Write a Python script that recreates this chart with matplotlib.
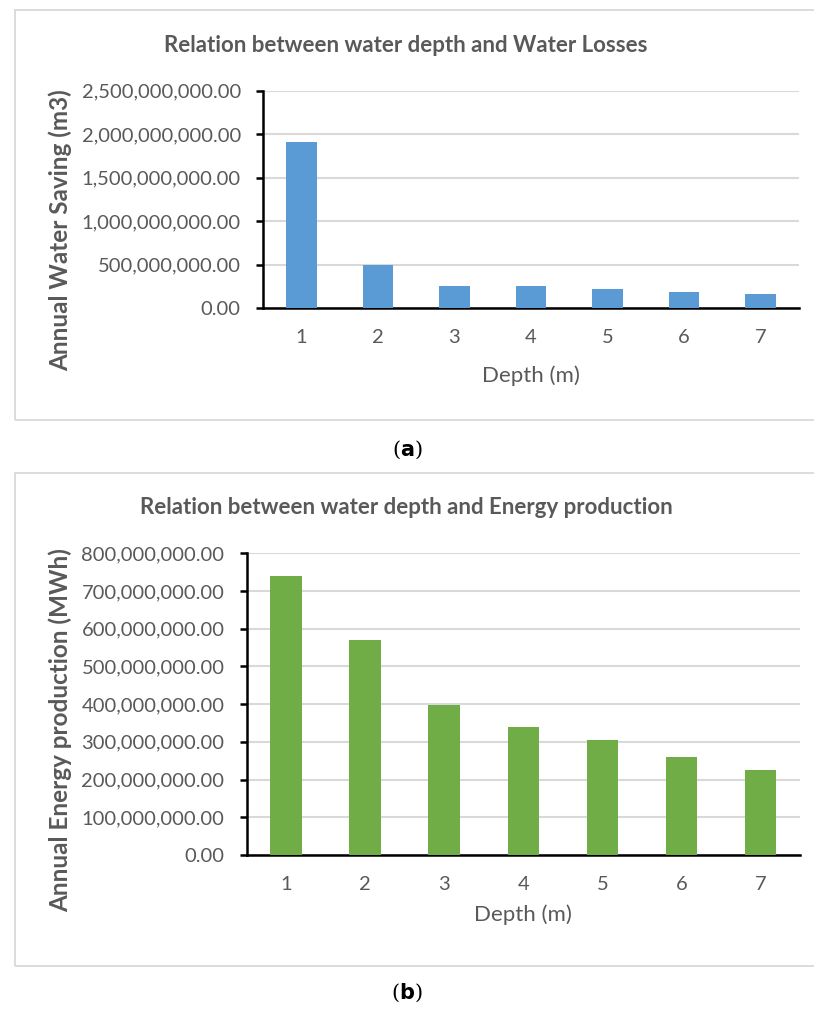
import matplotlib.pyplot as plt
from matplotlib.patches import Rectangle
from matplotlib.ticker import FuncFormatter

# Данные графиков
depth = [1, 2, 3, 4, 5, 6, 7]
water_saving = [1.909e9, 5.03e8, 2.60e8, 2.56e8, 2.25e8, 1.91e8, 1.65e8]
energy_production = [7.40e8, 5.69e8, 3.98e8, 3.40e8, 3.06e8, 2.60e8, 2.26e8]

W, H = 814, 1009
TEXT = '#595959'
GRID = '#D9D9D9'

plt.rcParams['font.family'] = ['Lato', 'DejaVu Sans']


def px_axes(fig, left, top, right, bottom):
    """Оси по пиксельным координатам картинки."""
    return fig.add_axes([left / W, 1 - bottom / H, (right - left) / W, (bottom - top) / H])


def draw_panel(ax, values, color, ymax, step, title, ylabel, title_y, ylabel_y, xlabel_pad):
    x = list(range(len(depth)))
    ax.bar(x, values, width=0.4, color=color, zorder=3)
    ax.set_xlim(-0.5, len(depth) - 0.5)
    ax.set_ylim(0, ymax)
    ax.set_yticks([i * step for i in range(int(round(ymax / step)) + 1)])
    ax.yaxis.set_major_formatter(FuncFormatter(lambda v, p: f'{v:,.2f}'))
    ax.set_xticks(x)
    ax.set_xticklabels([str(d) for d in depth])
    ax.grid(axis='y', color=GRID, linewidth=1.5, zorder=0)
    for s in ['top', 'right']:
        ax.spines[s].set_visible(False)
    ax.spines['left'].set_linewidth(1.8)
    ax.spines['bottom'].set_linewidth(1.8)
    ax.tick_params(axis='y', length=5, width=1.8, colors='black', labelcolor=TEXT,
                   labelsize=14.5, pad=11)
    ax.tick_params(axis='x', length=0, labelcolor=TEXT, labelsize=14.5, pad=15)
    ax.set_xlabel('Depth (m)', color=TEXT, fontsize=16, labelpad=xlabel_pad)
    ax.set_facecolor('white')
    fig = ax.figure
    fig.text(406 / W, 1 - title_y / H, title, ha='center', va='center',
             fontsize=16, fontweight='bold', color=TEXT)
    ax.set_ylabel(ylabel, color=TEXT, fontsize=17.5, fontweight='bold')
    pos = ax.get_position()
    ax.yaxis.set_label_coords((72 / W - pos.x0) / pos.width, ylabel_y)


fig = plt.figure(figsize=(W / 100, H / 100), dpi=100)

# Рамки панелей
fig.patches.append(Rectangle((15 / W, 1 - 420 / H), 1.2, (420 - 9.5) / H, transform=fig.transFigure,
                             fill=False, edgecolor='#D9D9D9', linewidth=1.3, zorder=0))
fig.patches.append(Rectangle((15 / W, 1 - 966 / H), 1.2, (966 - 472.5) / H, transform=fig.transFigure,
                             fill=False, edgecolor='#D9D9D9', linewidth=1.3, zorder=0))

ax1 = px_axes(fig, 263, 90.7, 799, 308.3)
draw_panel(ax1, water_saving, '#5B9BD5', 2.5e9, 5e8,
           'Relation between water depth and Water Losses',
           'Annual Water Saving (m3)', 45, 0.36, 14)

ax2 = px_axes(fig, 246.7, 553.3, 800, 855)
draw_panel(ax2, energy_production, '#70AD47', 8e8, 1e8,
           'Relation between water depth and Energy production',
           'Annual Energy production (MWh)', 507, 0.415, 8)

# Подписи (a) и (b)
for label, y in [('a', 450), ('b', 993)]:
    fig.text(407 / W, 1 - y / H, '(' + r'$\mathbf{' + label + '}$' + ')', ha='center', va='center',
             fontsize=15, family='DejaVu Serif', color='black')

fig.savefig('out.png', dpi=100)
